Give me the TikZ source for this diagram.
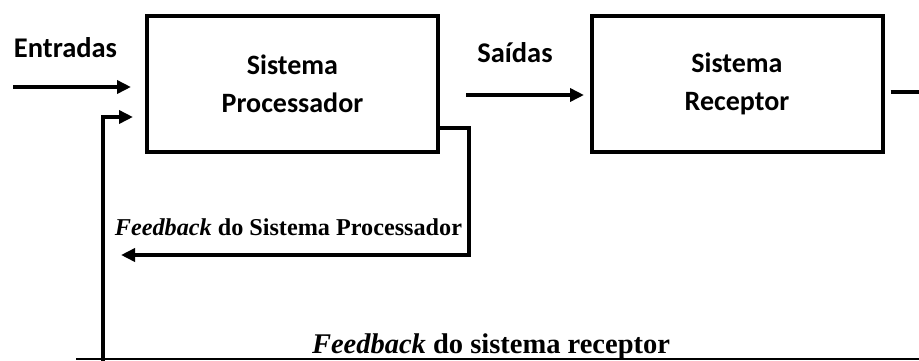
\documentclass[tikz,border=0pt]{standalone}
\usepackage{fontspec}
\setmainfont{Liberation Serif}
\newfontfamily\calib{Carlito}
\usetikzlibrary{arrows.meta}
\begin{document}
\begin{tikzpicture}[x=1pt,y=-1pt,
  blk/.style={draw,line width=4pt,minimum width=291pt,minimum height=136pt,
    align=center,font=\calib\bfseries\fontsize{28}{38}\selectfont},
  lbl/.style={font=\calib\bfseries\fontsize{28.5}{32}\selectfont,inner sep=0pt},
  serifl/.style={font=\bfseries\fontsize{24.2}{28}\selectfont,inner sep=0pt,anchor=base},
  serifb/.style={font=\bfseries\fontsize{28.5}{32}\selectfont,inner sep=0pt,anchor=base},
  flow/.style={line width=4pt,-{Triangle[length=14pt,width=13pt]}},
  wire/.style={line width=4pt}]
\useasboundingbox (0,0) rectangle (919,360);
% processing and receiving blocks
\node[blk] (proc) at (292.5,83.5) {Sistema\\Processador};
\node[blk] (recv) at (737,83.5) {Sistema\\Receptor};
% labels
\node[lbl] (ent) at (65.5,48) {Entradas};
\node[lbl] (sai) at (515,53) {Saídas};
\node[serifl] (fbp) at (288.5,235) {\textit{Feedback} do Sistema Processador};
\node[serifb] (fbr) at (491,353) {\textit{Feedback} do sistema receptor};
% free ends of the connectors
\coordinate (inS) at (13,87);
\coordinate (inE) at (131,87);
\coordinate (outS) at (466,95);
\coordinate (outE) at (584,95);
\coordinate (rxE) at (919,92);
\coordinate (pfA) at (469,128);
\coordinate (pfB) at (469,255);
\coordinate (pfE) at (121,255);
\coordinate (rfB) at (103,362);
\coordinate (rfA) at (103,117);
\coordinate (rfE) at (133,117);
\coordinate (blL) at (76,359);
\coordinate (blR) at (919,359);
% connectors
\draw[flow] (inS) -- (inE);
\draw[flow] (outS) -- (outE);
\draw[wire] (recv.east |- rxE) ++(6,0) -- (rxE);
\draw[flow,line join=miter] (proc.east |- pfA) -- (pfA) -- (pfB) -- (pfE);
\draw[flow,line join=miter] (rfB) -- (rfA) -- (rfE);
\draw[line width=1.5pt] (blL) -- (blR);
\end{tikzpicture}
\end{document}
